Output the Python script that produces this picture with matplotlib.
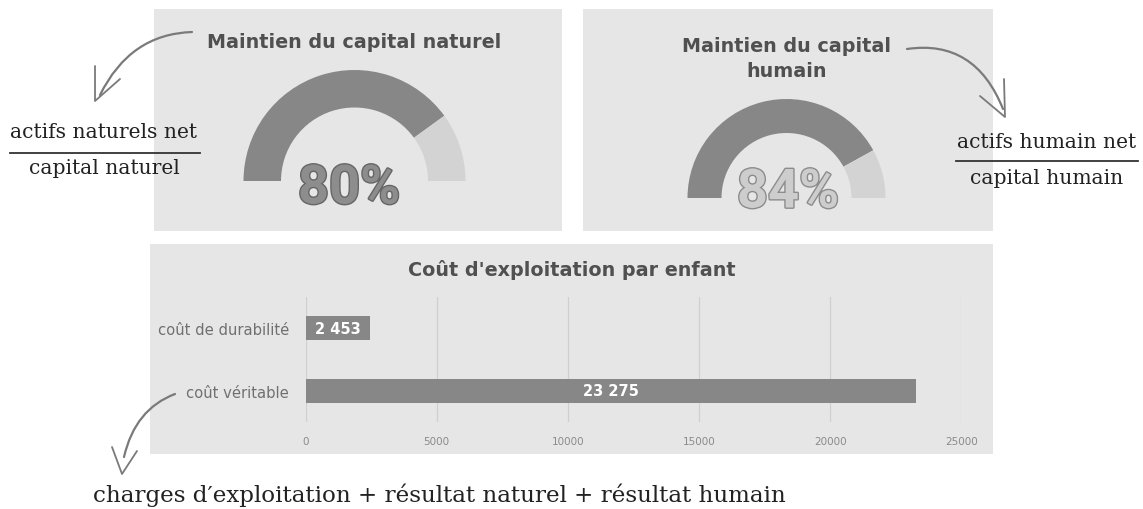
import matplotlib
matplotlib.use("Agg")
import matplotlib.pyplot as plt
from matplotlib.patches import Wedge, Rectangle
from matplotlib.path import Path
from matplotlib.patches import PathPatch
import matplotlib.patheffects as pe

# ---------------- data ----------------
gauge_titles = ["Maintien du capital naturel", "Maintien du capital\nhumain"]
gauge_values = [0.80, 0.84]
gauge_labels = ["80%", "84%"]

bar_title = "Coût d'exploitation par enfant"
bar_categories = ["coût véritable", "coût de durabilité"]
bar_values = [23275, 2453]
x_ticks = [0, 5000, 10000, 15000, 20000, 25000]

frac_nat = ("actifs naturels net", "capital naturel")
frac_hum = ("actifs humain net", "capital humain")
bottom_formula = "charges d\u2032exploitation + résultat naturel + résultat humain"

# ---------------- figure ----------------
W, H = 1143, 510
fig = plt.figure(figsize=(W / 100, H / 100), dpi=100)
fig.patch.set_facecolor("white")

# overlay axes in pixel coordinates (y up)
ov = fig.add_axes([0, 0, 1, 1])
ov.set_xlim(0, W)
ov.set_ylim(0, H)
ov.axis("off")

def Y(y):
    return H - y

panel_col = "#e6e6e6"
dark = "#878787"
light = "#d3d3d3"
title_col = "#505050"

# panels
for (x0, y0, x1, y1) in [(154, 10, 562, 232), (583, 10, 993, 232), (150, 245, 993, 455)]:
    ov.add_patch(Rectangle((x0, Y(y1)), x1 - x0, y1 - y0, facecolor=panel_col,
                           edgecolor="none", zorder=0))

# gauges
gauges = [
    dict(cx=354.5, cy=182, R=111, w=37.5, ty=43, ly=190, lx=349,
         fill="#8d8d8d", stroke="#666666"),
    dict(cx=786.5, cy=199, R=99, w=34, ty=59, ly=194, lx=788,
         fill="#cdcdcd", stroke="#8c8c8c"),
]
for g, title, val, lab in zip(gauges, gauge_titles, gauge_values, gauge_labels):
    split = 180 - 180 * val
    ov.add_patch(Wedge((g["cx"], Y(g["cy"])), g["R"], split, 180, width=g["w"],
                       facecolor=dark, edgecolor="none", zorder=2))
    ov.add_patch(Wedge((g["cx"], Y(g["cy"])), g["R"], 0, split, width=g["w"],
                       facecolor=light, edgecolor="none", zorder=2))
    ov.text(g["cx"], Y(g["ty"]), title, ha="center", va="center", fontsize=13.8,
            fontweight="bold", color=title_col, linespacing=1.35, zorder=3)
    ov.text(g["lx"], Y(g["ly"]), lab, ha="center", va="center", fontsize=39,
            fontweight="bold", family="Roboto", color=g["fill"], zorder=4,
            path_effects=[pe.withStroke(linewidth=2.0, foreground=g["stroke"])])

# fractions
serif = "DejaVu Serif"
def fraction(cx, ytop, yline, ybot, x0, x1, txt, fs):
    ov.text(cx, Y(ytop), txt[0], ha="center", va="center", fontsize=fs,
            family=serif, color="#222222")
    ov.plot([x0, x1], [Y(yline), Y(yline)], color="#333333", lw=1.3)
    ov.text(cx, Y(ybot), txt[1], ha="center", va="center", fontsize=fs,
            family=serif, color="#222222")

fraction(104, 133, 154, 169, 10, 200, frac_nat, 14.6)
fraction(1047, 142, 162, 178, 956, 1138, frac_hum, 14.6)

ov.text(93, Y(495), bottom_formula, ha="left", va="center", fontsize=16.6,
        family=serif, color="#222222")

# hand-drawn arrows
arrow_col = "#7a7a7a"
def curve(p0, c, p1):
    pts = [(p0[0], Y(p0[1])), (c[0], Y(c[1])), (p1[0], Y(p1[1]))]
    path = Path(pts, [Path.MOVETO, Path.CURVE3, Path.CURVE3])
    ov.add_patch(PathPatch(path, facecolor="none", edgecolor=arrow_col, lw=1.6,
                           capstyle="round", zorder=5))

def vee(tip, a, b):
    ov.plot([a[0], tip[0], b[0]], [Y(a[1]), Y(tip[1]), Y(b[1])], color=arrow_col,
            lw=1.3, solid_capstyle="round", zorder=5)

curve((192, 33), (130, 35), (100, 96))
vee((95, 102), (95, 67), (120, 80))
curve((907, 50), (975, 40), (1003, 110))
vee((1005, 118), (1004, 80), (980, 97))
curve((175, 395), (135, 410), (124, 458))
vee((122, 475), (112, 448), (137, 452))

# bar chart
ax_l, ax_r, ax_t, ax_b = 305.5, 961.5, 298, 423
ax = fig.add_axes([ax_l / W, (H - ax_b) / H, (ax_r - ax_l) / W, (ax_b - ax_t) / H])
ax.set_facecolor("none")
ypos = list(range(len(bar_categories)))
ax.barh(ypos, bar_values, height=0.39, color=dark, zorder=2)
for yp, v in zip(ypos, bar_values):
    ax.text(v / 2, yp, f"{v:,}".replace(",", " "), ha="center", va="center",
            color="white", fontsize=10.5, fontweight="bold", zorder=3)
ax.set_xlim(x_ticks[0], x_ticks[-1])
ax.set_ylim(-0.5, 1.5)
ax.set_xticks(x_ticks)
ax.set_xticklabels([str(t) for t in x_ticks])
ax.set_yticks(ypos)
ax.set_yticklabels(bar_categories)
ax.tick_params(axis="x", length=0, pad=10, labelsize=7.5, labelcolor="#8a8a8a")
ax.tick_params(axis="y", length=0, pad=12, labelsize=10.6, labelcolor="#707070")
ax.grid(axis="x", color="#cfcfcf", lw=0.9, zorder=0)
for s in ax.spines.values():
    s.set_visible(False)
ov.text(572, Y(270), bar_title, ha="center", va="center", fontsize=13.8,
        fontweight="bold", color=title_col)

fig.savefig("out.png", dpi=100, facecolor="white")
